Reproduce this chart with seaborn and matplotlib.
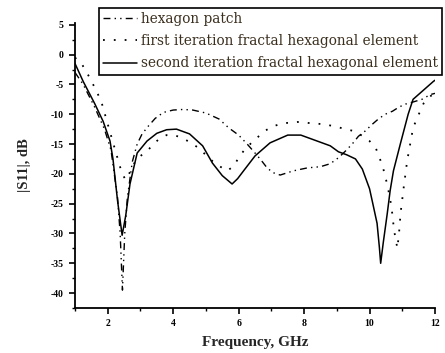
import matplotlib
matplotlib.use("Agg")
import matplotlib.pyplot as plt
import seaborn as sns
import pandas as pd
from matplotlib.ticker import MultipleLocator

# Frequency (GHz) and |S11| (dB)
freq_hex = [1.0, 1.25, 1.6, 1.9, 2.1, 2.3, 2.38, 2.45, 2.52, 2.6, 2.75, 2.9, 3.05, 3.24,
            3.45, 3.7, 4.0, 4.3, 4.6, 5.0, 5.4, 5.7, 6.0, 6.26, 6.5, 6.7, 6.87, 7.05,
            7.27, 7.67, 8.1, 8.5, 8.8, 9.05, 9.26, 9.47, 9.66, 9.87, 10.08, 10.27,
            10.48, 10.7, 10.9, 11.1, 11.3, 11.6, 11.86, 12.0]
s11_hex = [-3.0, -5.0, -8.8, -12.5, -16.0, -24.0, -30.0, -39.5, -30.0, -24.0, -18.0,
           -15.0, -13.3, -12.0, -10.7, -9.7, -9.3, -9.2, -9.3, -9.8, -10.8, -12.3,
           -13.5, -15.0, -16.5, -17.8, -19.0, -19.8, -20.2, -19.5, -19.0, -18.8,
           -18.3, -17.3, -16.2, -15.0, -13.7, -12.8, -11.7, -10.8, -10.0, -9.5,
           -8.8, -8.3, -8.0, -7.5, -6.7, -6.5]

freq_first = [1.0, 1.2, 1.4, 1.6, 1.8, 2.07, 2.28, 2.44, 2.55, 2.7, 2.85, 3.0, 3.2, 3.4,
              3.6, 3.8, 4.0, 4.2, 4.45, 4.82, 5.07, 5.35, 5.65, 5.85, 6.0, 6.2, 6.45,
              6.8, 7.05, 7.4, 7.8, 8.2, 8.65, 9.05, 9.5, 9.66, 10.0, 10.2, 10.4, 10.55,
              10.67, 10.75, 10.85, 10.9, 10.95, 11.05, 11.15, 11.33, 11.45, 11.65,
              11.85, 12.0]
s11_first = [-0.5, -1.5, -3.4, -5.5, -7.8, -13.0, -17.0, -20.0, -21.0, -19.5, -17.8,
             -17.0, -16.2, -15.0, -14.0, -13.5, -13.5, -13.8, -14.5, -15.8, -17.3,
             -18.5, -19.5, -18.7, -17.3, -15.8, -14.5, -12.8, -12.0, -11.5, -11.3,
             -11.5, -11.7, -12.2, -12.8, -13.2, -14.5, -15.8, -18.7, -22.0, -25.5,
             -29.5, -32.5, -30.0, -26.5, -22.0, -17.8, -12.3, -10.7, -8.2, -7.0, -6.5]

freq_second = [1.0, 1.25, 1.6, 1.86, 2.07, 2.16, 2.3, 2.44, 2.55, 2.68, 2.9, 3.2, 3.5,
               3.8, 4.1, 4.5, 4.9, 5.2, 5.5, 5.8, 5.97, 6.15, 6.5, 6.96, 7.5, 7.9, 8.4,
               8.8, 9.05, 9.3, 9.57, 9.78, 9.9, 10.0, 10.1, 10.23, 10.3, 10.34, 10.42,
               10.54, 10.63, 10.73, 10.94, 11.18, 11.33, 11.95, 12.0]
s11_second = [-1.5, -4.5, -8.2, -11.2, -14.5, -17.5, -24.5, -30.3, -27.0, -21.7, -16.5,
              -14.5, -13.2, -12.6, -12.5, -13.3, -15.3, -18.2, -20.3, -21.7, -20.8,
              -19.5, -17.0, -14.8, -13.5, -13.5, -14.5, -15.3, -16.3, -16.8, -17.5,
              -19.2, -21.0, -22.5, -25.0, -28.3, -32.3, -35.0, -31.5, -26.7, -22.8,
              -19.5, -15.0, -10.0, -7.5, -4.5, -4.3]

labels = ["hexagon patch",
          "first iteration fractal hexagonal element",
          "second iteration fractal hexagonal element"]
x_ticks = [2, 4, 6, 8, 10, 12]
y_ticks = [5, 0, -5, -10, -15, -20, -25, -30, -35, -40]

sns.set_theme(style="white")
plt.rcParams["font.family"] = ["Liberation Serif", "DejaVu Serif"]

fig = plt.figure(figsize=(4.45, 3.53), dpi=100)
ax = fig.add_axes([75 / 445, 45 / 353, 360 / 445, 285 / 353])

df_hex = pd.DataFrame({"f": freq_hex, "s": s11_hex})
df_first = pd.DataFrame({"f": freq_first, "s": s11_first})
df_second = pd.DataFrame({"f": freq_second, "s": s11_second})

sns.lineplot(data=df_hex, x="f", y="s", ax=ax, color="black", lw=1.0,
             linestyle=(0, (5, 3, 1, 3, 1, 3)), label=labels[0], estimator=None)
sns.lineplot(data=df_first, x="f", y="s", ax=ax, color="black", lw=1.3,
             linestyle=(0, (1, 5)), label=labels[1], estimator=None)
sns.lineplot(data=df_second, x="f", y="s", ax=ax, color="black", lw=1.1,
             linestyle="-", label=labels[2], estimator=None)

ax.set_xlim(1, 12)
ax.set_ylim(-42.5, 5.3)
ax.set_xticks(x_ticks)
ax.set_yticks(y_ticks)
ax.xaxis.set_minor_locator(MultipleLocator(1))
ax.yaxis.set_minor_locator(MultipleLocator(2.5))
ax.set_xticklabels([str(t) for t in x_ticks])
ax.set_yticklabels([str(t) for t in y_ticks])

for side in ["top", "right"]:
    ax.spines[side].set_visible(False)
for side in ["left", "bottom"]:
    ax.spines[side].set_color("black")
    ax.spines[side].set_linewidth(1.3)

ax.tick_params(which="major", direction="out", length=4, width=1.2,
               colors="black", labelsize=7, pad=4, left=True, bottom=True)
ax.tick_params(which="minor", direction="out", length=2.5, width=1.0,
               colors="black", left=True, bottom=True)
for lab in ax.get_xticklabels() + ax.get_yticklabels():
    lab.set_fontweight("bold")

ax.set_xlabel("Frequency, GHz", fontsize=11, fontweight="bold", labelpad=6)
ax.set_ylabel("|S11|, dB", fontsize=10.5, fontweight="bold", labelpad=14)

ax.get_legend().remove()
handles, _ = ax.get_legend_handles_labels()
leg = fig.legend(handles, labels, loc="upper left",
                 bbox_to_anchor=(99 / 445, 1 - 8 / 353), borderaxespad=0,
                 frameon=True, fancybox=False, edgecolor="black",
                 prop={"family": ["DejaVu Serif"], "size": 9.8},
                 handlelength=2.5, handletextpad=0.3,
                 labelspacing=0.6, borderpad=0.3, framealpha=1)
leg.get_frame().set_linewidth(1.2)
for t in leg.get_texts():
    t.set_color("#3b2f1e")

fig.savefig("out.png", dpi=100, facecolor="white")
